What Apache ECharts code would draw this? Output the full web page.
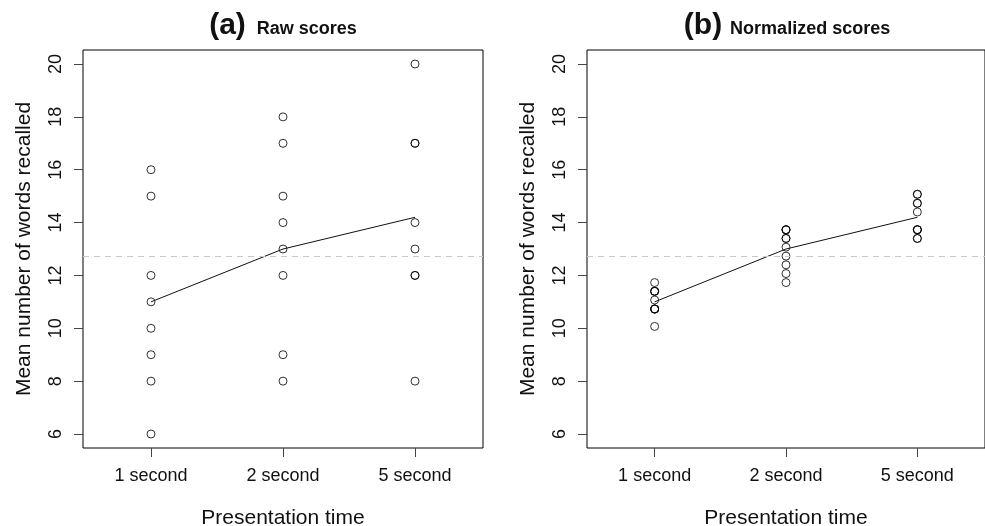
<!DOCTYPE html>
<html>
<head>
<meta charset="utf-8">
<script src="https://cdn.jsdelivr.net/npm/echarts@6/dist/echarts.min.js"></script>
<style>html,body{margin:0;padding:0;background:#fff}#c{width:985px;height:526px}</style>
</head>
<body>
<div id="c"></div>
<script>
const categories = ['1 second', '2 second', '5 second'];
const yTicks = [6, 8, 10, 12, 14, 16, 18, 20];
const rawScores1 = [16, 15, 12, 11, 10, 9, 8, 6];
const rawScores2 = [18, 17, 15, 14, 13, 12, 9, 8];
const rawScores5 = [20, 17, 17, 14, 13, 12, 12, 8];
const normScores1 = [11.73, 11.4, 11.4, 11.4, 11.07, 10.73, 10.73, 10.73, 10.73, 10.07];
const normScores2 = [13.73, 13.73, 13.73, 13.4, 13.4, 13.07, 12.73, 12.4, 12.07, 11.73];
const normScores5 = [15.07, 15.07, 14.73, 14.73, 14.4, 13.73, 13.73, 13.73, 13.4, 13.4];
const conditionMeans = [11.0, 13.0, 14.2];
const grandMean = 12.73;

const FONT = 'Liberation Sans, Arial, Helvetica, sans-serif';
const TXT = '#111';

function pts(groups) {
  const out = [];
  groups.forEach((g, i) => g.forEach(v => out.push([i + 1, v])));
  return out;
}
const rawPoints = pts([rawScores1, rawScores2, rawScores5]);
const normPoints = pts([normScores1, normScores2, normScores5]);
const meanPoints = conditionMeans.map((v, i) => [i + 1, v]);

function xAxis(idx) {
  return {
    type: 'value', gridIndex: idx, min: 0.485, max: 3.515,
    name: 'Presentation time', nameLocation: 'middle', nameGap: 60,
    nameTextStyle: { fontFamily: FONT, fontSize: 21, color: TXT },
    axisLine: { show: false },
    splitLine: { show: false },
    axisTick: { show: true, customValues: [1, 2, 3], length: 9, lineStyle: { color: '#444' } },
    axisLabel: { customValues: [1, 2, 3], margin: 19, fontFamily: FONT, fontSize: 18, color: TXT,
      formatter: v => categories[Math.round(v) - 1] }
  };
}
function yAxis(idx) {
  return {
    type: 'value', gridIndex: idx, min: 5.47, max: 20.53,
    name: 'Mean number of words recalled', nameLocation: 'middle', nameGap: 48,
    nameTextStyle: { fontFamily: FONT, fontSize: 21, color: TXT },
    axisLine: { show: false },
    splitLine: { show: false },
    axisTick: { show: true, customValues: yTicks, length: 9, lineStyle: { color: '#444' } },
    axisLabel: { customValues: yTicks, rotate: 90, margin: 18, fontFamily: FONT, fontSize: 18, color: TXT }
  };
}
function scatter(idx, data) {
  return {
    type: 'scatter', xAxisIndex: idx, yAxisIndex: idx, data: data,
    symbol: 'circle', symbolSize: 8, z: 2, silent: true,
    itemStyle: { color: 'rgba(255,255,255,0)', borderColor: '#000', borderWidth: 1 },
    markLine: {
      silent: true, symbol: 'none', label: { show: false },
      lineStyle: { color: '#c8c8c8', type: [6, 5], width: 1 },
      data: [{ yAxis: grandMean }]
    }
  };
}
function meanLine(idx) {
  return {
    type: 'line', xAxisIndex: idx, yAxisIndex: idx, data: meanPoints,
    showSymbol: false, silent: true, z: 3,
    lineStyle: { color: '#111', width: 1 }
  };
}
function title(x, tag, text, gap) {
  return {
    text: '{a|' + tag + '}{b|' + text + '}',
    left: x, top: 6, textAlign: 'center',
    textStyle: {
      rich: {
        a: { fontFamily: FONT, fontSize: 30, fontWeight: 'bold', color: TXT, verticalAlign: 'bottom' },
        b: { fontFamily: FONT, fontSize: 18, fontWeight: 'bold', color: TXT, verticalAlign: 'bottom', padding: [0, 0, 3, gap] }
      }
    }
  };
}

const chart = echarts.init(document.getElementById('c'), null, { renderer: 'canvas' });
chart.setOption({
  animation: false,
  backgroundColor: '#fff',
  title: [title(278, '(a)', 'Raw scores', 11), title(782, '(b)', 'Normalized scores', 8)],
  grid: [
    { left: 83, top: 50, width: 400, height: 398, show: true, borderColor: '#000', borderWidth: 1, backgroundColor: 'transparent', containLabel: false, outerBoundsMode: 'none' },
    { left: 587, top: 50, width: 398, height: 398, show: true, borderColor: '#000', borderWidth: 1, backgroundColor: 'transparent', containLabel: false, outerBoundsMode: 'none' }
  ],
  xAxis: [xAxis(0), xAxis(1)],
  yAxis: [yAxis(0), yAxis(1)],
  series: [scatter(0, rawPoints), meanLine(0), scatter(1, normPoints), meanLine(1)]
});
</script>
</body>
</html>
